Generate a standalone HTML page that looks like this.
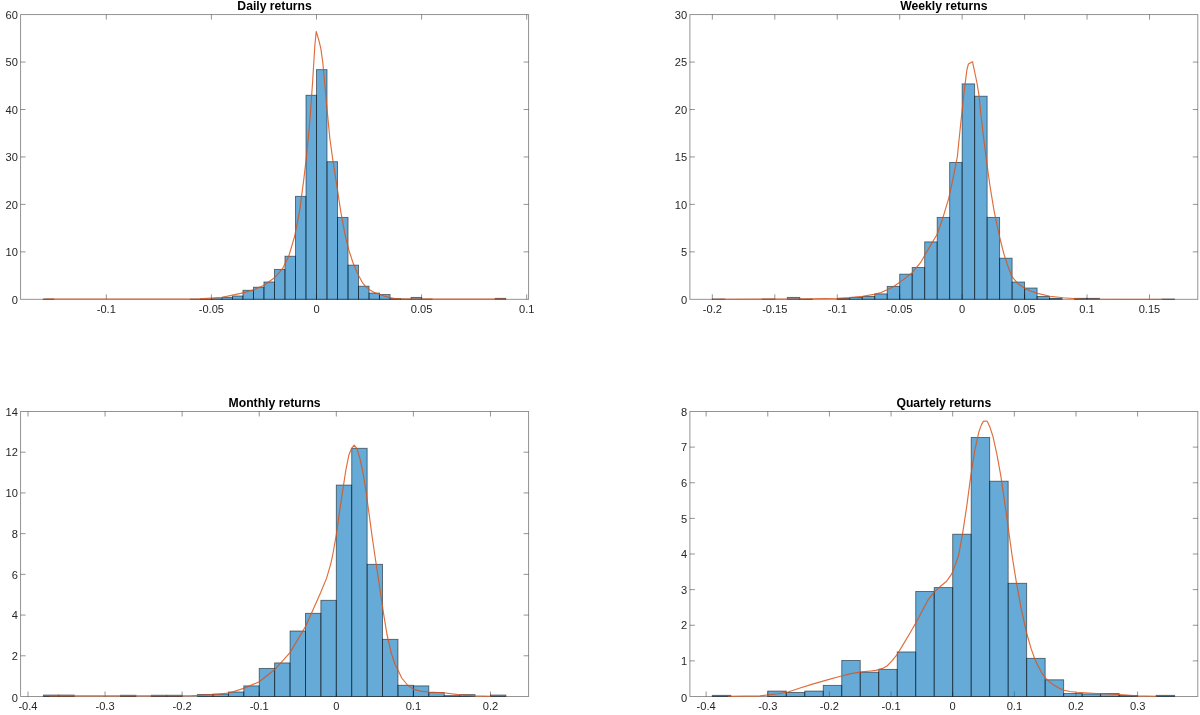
<!DOCTYPE html>
<html lang="en">
<head>
<meta charset="utf-8">
<title>Return distributions</title>
<style>
html,body{margin:0;padding:0;background:#fff;}
body{width:1200px;height:715px;overflow:hidden;}
svg{display:block;}
text{font-family:"Liberation Sans",Arial,Helvetica,sans-serif;fill:#262626;}
svg{will-change:transform;}
.xl,.yl,.ttl{filter:grayscale(1);}
.ttl{font-size:12.2px;font-weight:bold;text-anchor:middle;fill:#000;}
.xl text{font-size:11.1px;text-anchor:middle;}
.yl text{font-size:11.1px;text-anchor:end;}
.ax rect,.ax path{fill:none;stroke:#262626;stroke-width:0.9;stroke-opacity:0.55;}
.bars rect{fill:#0072bd;fill-opacity:0.6;stroke:#000000;stroke-width:0.9;stroke-opacity:0.55;stroke-linejoin:miter;}
.kde{fill:none;stroke:#d95319;stroke-width:1.15;stroke-opacity:0.85;stroke-linejoin:round;stroke-linecap:round;}
</style>
</head>
<body>
<svg width="1200" height="715" viewBox="0 0 1200 715">
<rect x="0" y="0" width="1200" height="715" fill="#ffffff"/>
<g class="plot">
<text class="ttl" x="274.6" y="9.9">Daily returns</text>
<g class="ax">
<rect x="20.6" y="14.6" width="508" height="284.7"/>
<path d="M106.3 299.3v-5.0M106.3 14.6v5.0M211.4 299.3v-5.0M211.4 14.6v5.0M316.5 299.3v-5.0M316.5 14.6v5.0M421.6 299.3v-5.0M421.6 14.6v5.0M526.7 299.3v-5.0M526.7 14.6v5.0M20.6 251.85h5.0M528.6 251.85h-5.0M20.6 204.4h5.0M528.6 204.4h-5.0M20.6 156.95h5.0M528.6 156.95h-5.0M20.6 109.5h5.0M528.6 109.5h-5.0M20.6 62.05h5.0M528.6 62.05h-5.0"/>
</g>
<g class="xl">
<text x="106.3" y="313">-0.1</text>
<text x="211.4" y="313">-0.05</text>
<text x="316.5" y="313">0</text>
<text x="421.6" y="313">0.05</text>
<text x="526.7" y="313">0.1</text>
</g><g class="yl">
<text x="17.9" y="304.3">0</text>
<text x="17.9" y="256.05">10</text>
<text x="17.9" y="208.6">20</text>
<text x="17.9" y="161.15">30</text>
<text x="17.9" y="113.7">40</text>
<text x="17.9" y="66.25">50</text>
<text x="17.9" y="18.8">60</text>
</g>
<g class="bars">
<rect x="43.24" y="299.02" width="10.51" height="0.28"/>
<rect x="190.38" y="299.16" width="10.51" height="0.14"/>
<rect x="200.89" y="299.02" width="10.51" height="0.28"/>
<rect x="211.4" y="298.73" width="10.51" height="0.57"/>
<rect x="221.91" y="297.31" width="10.51" height="1.99"/>
<rect x="232.42" y="295.98" width="10.51" height="3.32"/>
<rect x="242.93" y="290.28" width="10.51" height="9.02"/>
<rect x="253.44" y="287.2" width="10.51" height="12.1"/>
<rect x="263.95" y="281.98" width="10.51" height="17.32"/>
<rect x="274.46" y="269.41" width="10.51" height="29.89"/>
<rect x="284.97" y="256.22" width="10.51" height="43.08"/>
<rect x="295.48" y="196.33" width="10.51" height="102.97"/>
<rect x="305.99" y="95.27" width="10.51" height="204.03"/>
<rect x="316.5" y="69.64" width="10.51" height="229.66"/>
<rect x="327.01" y="161.7" width="10.51" height="137.6"/>
<rect x="337.52" y="217.4" width="10.51" height="81.9"/>
<rect x="348.03" y="265.14" width="10.51" height="34.16"/>
<rect x="358.54" y="286.2" width="10.51" height="13.1"/>
<rect x="369.05" y="293.08" width="10.51" height="6.22"/>
<rect x="379.56" y="294.56" width="10.51" height="4.75"/>
<rect x="390.07" y="298.59" width="10.51" height="0.71"/>
<rect x="400.58" y="299.06" width="10.51" height="0.24"/>
<rect x="411.09" y="297.4" width="10.51" height="1.9"/>
<rect x="421.6" y="299.06" width="10.51" height="0.24"/>
<rect x="495.17" y="298.35" width="10.51" height="0.95"/>
</g>
<path class="kde" d="M45 299L150 299L200 298.9L222.1 297.3L243.1 292.9L253.6 289.9L264 285.2L274.5 277.8L282.5 268.7L288.6 256.6L294.6 236.5L299.7 210.3L303.7 180.1L306.4 157L309.7 122.7L312.7 80.5L314.8 46.2L316.2 31.5L318.8 40.2L320.8 48.3L322.8 62.3L324.8 84.5L327.2 110.7L329.9 138.9L332.4 157L336.9 186.2L340.9 212.3L345 234.5L349 250.6L353 262.7L358.2 274.8L362.8 283.2L366 286.9L369.9 289.9L374 292.2L378.4 294L384 296L389.7 297.6L395 298.5L401.1 299L450 299.1L505 299.1"/>
</g>
<g class="plot">
<text class="ttl" x="943.85" y="9.9">Weekly returns</text>
<g class="ax">
<rect x="689.9" y="14.6" width="507.9" height="284.7"/>
<path d="M712.35 299.3v-5.0M712.35 14.6v5.0M774.8 299.3v-5.0M774.8 14.6v5.0M837.25 299.3v-5.0M837.25 14.6v5.0M899.7 299.3v-5.0M899.7 14.6v5.0M962.15 299.3v-5.0M962.15 14.6v5.0M1024.6 299.3v-5.0M1024.6 14.6v5.0M1087.05 299.3v-5.0M1087.05 14.6v5.0M1149.5 299.3v-5.0M1149.5 14.6v5.0M689.9 251.85h5.0M1197.8 251.85h-5.0M689.9 204.4h5.0M1197.8 204.4h-5.0M689.9 156.95h5.0M1197.8 156.95h-5.0M689.9 109.5h5.0M1197.8 109.5h-5.0M689.9 62.05h5.0M1197.8 62.05h-5.0"/>
</g>
<g class="xl">
<text x="712.35" y="313">-0.2</text>
<text x="774.8" y="313">-0.15</text>
<text x="837.25" y="313">-0.1</text>
<text x="899.7" y="313">-0.05</text>
<text x="962.15" y="313">0</text>
<text x="1024.6" y="313">0.05</text>
<text x="1087.05" y="313">0.1</text>
<text x="1149.5" y="313">0.15</text>
</g><g class="yl">
<text x="687.2" y="304.3">0</text>
<text x="687.2" y="256.05">5</text>
<text x="687.2" y="208.6">10</text>
<text x="687.2" y="161.15">15</text>
<text x="687.2" y="113.7">20</text>
<text x="687.2" y="66.25">25</text>
<text x="687.2" y="18.8">30</text>
</g>
<g class="bars">
<rect x="712.35" y="299.02" width="12.49" height="0.28"/>
<rect x="762.31" y="299.02" width="12.49" height="0.28"/>
<rect x="787.29" y="297.4" width="12.49" height="1.9"/>
<rect x="799.78" y="299.02" width="12.49" height="0.28"/>
<rect x="837.25" y="298.54" width="12.49" height="0.76"/>
<rect x="849.74" y="297.4" width="12.49" height="1.9"/>
<rect x="862.23" y="296.45" width="12.49" height="2.85"/>
<rect x="874.72" y="293.89" width="12.49" height="5.41"/>
<rect x="887.21" y="286.39" width="12.49" height="12.91"/>
<rect x="899.7" y="274.15" width="12.49" height="25.15"/>
<rect x="912.19" y="267.51" width="12.49" height="31.79"/>
<rect x="924.68" y="241.89" width="12.49" height="57.41"/>
<rect x="937.17" y="217.4" width="12.49" height="81.9"/>
<rect x="949.66" y="162.45" width="12.49" height="136.85"/>
<rect x="962.15" y="83.88" width="12.49" height="215.42"/>
<rect x="974.64" y="96.21" width="12.49" height="203.09"/>
<rect x="987.13" y="217.4" width="12.49" height="81.9"/>
<rect x="999.62" y="258.21" width="12.49" height="41.09"/>
<rect x="1012.11" y="282.03" width="12.49" height="17.27"/>
<rect x="1024.6" y="288.01" width="12.49" height="11.29"/>
<rect x="1037.09" y="296.45" width="12.49" height="2.85"/>
<rect x="1049.58" y="298.35" width="12.49" height="0.95"/>
<rect x="1074.56" y="298.35" width="12.49" height="0.95"/>
<rect x="1087.05" y="298.35" width="12.49" height="0.95"/>
<rect x="1161.99" y="299.02" width="12.49" height="0.28"/>
</g>
<path class="kde" d="M714 299.2L800 299L837.6 298.3L850 297.6L862.5 296.3L874 294.4L881 292.6L887.2 289.8L893 286.9L899.4 282.6L912.1 272.7L920.5 262.7L928.6 248.6L937 234.5L942.7 218.4L948.7 198.3L952.7 180.1L957.3 157L960.8 122.7L963.8 94.6L966.8 70.4L968.4 64L972.5 61.7L973.9 68.4L976.9 82.5L978.9 94.6L980.9 114.7L984 140.9L986 157L990 186.2L994 210.3L999.7 237.5L1004.1 254.6L1008.1 266.7L1012.1 276.8L1018.2 284L1025 288.4L1031.3 291.3L1037.5 293.4L1050 296.2L1063.3 297.8L1079.6 299L1100 299.3L1162 299.3"/>
</g>
<g class="plot">
<text class="ttl" x="274.6" y="406.8">Monthly returns</text>
<g class="ax">
<rect x="20.6" y="411.5" width="508" height="285"/>
<path d="M27.98 696.5v-5.0M27.98 411.5v5.0M105.06 696.5v-5.0M105.06 411.5v5.0M182.14 696.5v-5.0M182.14 411.5v5.0M259.22 696.5v-5.0M259.22 411.5v5.0M336.3 696.5v-5.0M336.3 411.5v5.0M413.38 696.5v-5.0M413.38 411.5v5.0M490.46 696.5v-5.0M490.46 411.5v5.0M20.6 655.79h5.0M528.6 655.79h-5.0M20.6 615.07h5.0M528.6 615.07h-5.0M20.6 574.36h5.0M528.6 574.36h-5.0M20.6 533.64h5.0M528.6 533.64h-5.0M20.6 492.93h5.0M528.6 492.93h-5.0M20.6 452.21h5.0M528.6 452.21h-5.0"/>
</g>
<g class="xl">
<text x="27.98" y="710.2">-0.4</text>
<text x="105.06" y="710.2">-0.3</text>
<text x="182.14" y="710.2">-0.2</text>
<text x="259.22" y="710.2">-0.1</text>
<text x="336.3" y="710.2">0</text>
<text x="413.38" y="710.2">0.1</text>
<text x="490.46" y="710.2">0.2</text>
</g><g class="yl">
<text x="17.9" y="701.5">0</text>
<text x="17.9" y="659.99">2</text>
<text x="17.9" y="619.27">4</text>
<text x="17.9" y="578.56">6</text>
<text x="17.9" y="537.84">8</text>
<text x="17.9" y="497.13">10</text>
<text x="17.9" y="456.41">12</text>
<text x="17.9" y="415.7">14</text>
</g>
<g class="bars">
<rect x="43.4" y="695.03" width="15.42" height="1.47"/>
<rect x="58.81" y="695.03" width="15.42" height="1.47"/>
<rect x="120.48" y="695.24" width="15.42" height="1.26"/>
<rect x="151.31" y="695.24" width="15.42" height="1.26"/>
<rect x="166.72" y="695.24" width="15.42" height="1.26"/>
<rect x="197.56" y="694.42" width="15.42" height="2.08"/>
<rect x="212.97" y="694.02" width="15.42" height="2.48"/>
<rect x="228.39" y="691.98" width="15.42" height="4.52"/>
<rect x="243.8" y="685.89" width="15.42" height="10.61"/>
<rect x="259.22" y="668.41" width="15.42" height="28.09"/>
<rect x="274.64" y="662.92" width="15.42" height="33.58"/>
<rect x="290.05" y="631.01" width="15.42" height="65.49"/>
<rect x="305.47" y="613.33" width="15.42" height="83.17"/>
<rect x="320.88" y="600.32" width="15.42" height="96.18"/>
<rect x="336.3" y="485.08" width="15.42" height="211.42"/>
<rect x="351.72" y="448.29" width="15.42" height="248.21"/>
<rect x="367.13" y="564.34" width="15.42" height="132.16"/>
<rect x="382.55" y="639.34" width="15.42" height="57.16"/>
<rect x="397.96" y="685.28" width="15.42" height="11.22"/>
<rect x="413.38" y="685.89" width="15.42" height="10.61"/>
<rect x="428.8" y="692.59" width="15.42" height="3.91"/>
<rect x="444.21" y="695.64" width="15.42" height="0.86"/>
<rect x="459.63" y="694.63" width="15.42" height="1.87"/>
<rect x="490.46" y="695.03" width="15.42" height="1.47"/>
</g>
<path class="kde" d="M50 695.9L190 695.7L215 694.6L230 692.8L243.7 688.4L259.2 681.8L274.5 669.8L290 652.6L305.5 626.5L314.6 606.3L320.8 592.2L326.6 578.1L330.7 564.1L332.7 555L336.3 534.8L339.7 510.7L342.7 490.5L345.8 470.4L348.8 455.3L351.6 448.3L354.2 445.2L356.8 448.3L359.9 458.3L362.9 472.4L365.9 490.5L368.9 512.7L371.9 534.8L374.8 555L378 576.1L381 596.3L384 616.4L387 634.5L391.1 652.6L395.1 664.5L398.2 670.6L401.7 678L407.5 685L413.3 689.1L420.3 691.1L428.5 692L443.7 692.8L460 694.9L475.2 695.9L490.4 696.2"/>
</g>
<g class="plot">
<text class="ttl" x="943.85" y="406.8">Quartely returns</text>
<g class="ax">
<rect x="689.9" y="411.5" width="507.9" height="285"/>
<path d="M706.14 696.5v-5.0M706.14 411.5v5.0M767.78 696.5v-5.0M767.78 411.5v5.0M829.42 696.5v-5.0M829.42 411.5v5.0M891.06 696.5v-5.0M891.06 411.5v5.0M952.7 696.5v-5.0M952.7 411.5v5.0M1014.34 696.5v-5.0M1014.34 411.5v5.0M1075.98 696.5v-5.0M1075.98 411.5v5.0M1137.62 696.5v-5.0M1137.62 411.5v5.0M689.9 660.88h5.0M1197.8 660.88h-5.0M689.9 625.25h5.0M1197.8 625.25h-5.0M689.9 589.62h5.0M1197.8 589.62h-5.0M689.9 554h5.0M1197.8 554h-5.0M689.9 518.38h5.0M1197.8 518.38h-5.0M689.9 482.75h5.0M1197.8 482.75h-5.0M689.9 447.12h5.0M1197.8 447.12h-5.0"/>
</g>
<g class="xl">
<text x="706.14" y="710.2">-0.4</text>
<text x="767.78" y="710.2">-0.3</text>
<text x="829.42" y="710.2">-0.2</text>
<text x="891.06" y="710.2">-0.1</text>
<text x="952.7" y="710.2">0</text>
<text x="1014.34" y="710.2">0.1</text>
<text x="1075.98" y="710.2">0.2</text>
<text x="1137.62" y="710.2">0.3</text>
</g><g class="yl">
<text x="687.2" y="701.5">0</text>
<text x="687.2" y="665.08">1</text>
<text x="687.2" y="629.45">2</text>
<text x="687.2" y="593.83">3</text>
<text x="687.2" y="558.2">4</text>
<text x="687.2" y="522.58">5</text>
<text x="687.2" y="486.95">6</text>
<text x="687.2" y="451.32">7</text>
<text x="687.2" y="415.7">8</text>
</g>
<g class="bars">
<rect x="712.3" y="695.34" width="18.49" height="1.16"/>
<rect x="767.78" y="691.07" width="18.49" height="5.43"/>
<rect x="786.27" y="692.49" width="18.49" height="4.01"/>
<rect x="804.76" y="691.07" width="18.49" height="5.43"/>
<rect x="823.26" y="685.38" width="18.49" height="11.12"/>
<rect x="841.75" y="660.48" width="18.49" height="36.02"/>
<rect x="860.24" y="672.22" width="18.49" height="24.28"/>
<rect x="878.73" y="669.37" width="18.49" height="27.13"/>
<rect x="897.22" y="651.94" width="18.49" height="44.56"/>
<rect x="915.72" y="591.48" width="18.49" height="105.02"/>
<rect x="934.21" y="587.57" width="18.49" height="108.93"/>
<rect x="952.7" y="534.21" width="18.49" height="162.29"/>
<rect x="971.19" y="437.47" width="18.49" height="259.03"/>
<rect x="989.68" y="481.21" width="18.49" height="215.29"/>
<rect x="1008.18" y="583.3" width="18.49" height="113.2"/>
<rect x="1026.67" y="658.35" width="18.49" height="38.15"/>
<rect x="1045.16" y="679.8" width="18.49" height="16.7"/>
<rect x="1063.65" y="693.56" width="18.49" height="2.94"/>
<rect x="1082.14" y="693.92" width="18.49" height="2.58"/>
<rect x="1100.64" y="693.56" width="18.49" height="2.94"/>
<rect x="1119.13" y="695.52" width="18.49" height="0.98"/>
<rect x="1156.11" y="695.34" width="18.49" height="1.16"/>
</g>
<path class="kde" d="M728.5 696.2L760 695.9L777.5 693.75L788 692L798.5 688.5L812.5 684.1L826.5 680.1L840.5 676.25L851 673.6L861.5 671.9L870.5 671L876 670.4L882.5 668.4L887 666L892.2 660.7L897 654.7L904.3 642.6L910.3 632.5L915.6 623.4L922.4 610.4L928.4 599.3L934.1 592.2L940.5 586.2L946.6 581.2L951.6 574.1L955.6 564.1L958.7 555L962.7 532.8L966.7 506.6L970.7 476.4L974.8 450.3L978.8 432.1L981.6 424.4L983.3 421.4L985.3 421L987.3 421.4L989.9 427.1L992.9 436.2L996.9 454.3L1000.9 476.4L1005 504.6L1008.4 528.8L1012 555L1016 580.2L1021.1 608.3L1026.5 632.5L1031.1 648.6L1035 659.5L1038.5 666.8L1042 673.2L1045.6 678.2L1049.5 681.9L1054.1 685.2L1059 688L1064 690.2L1070 691.5L1076.7 692.3L1100.8 693.7L1119.2 694.5L1137.6 695.9L1156 696.3"/>
</g>
</svg>
</body>
</html>
